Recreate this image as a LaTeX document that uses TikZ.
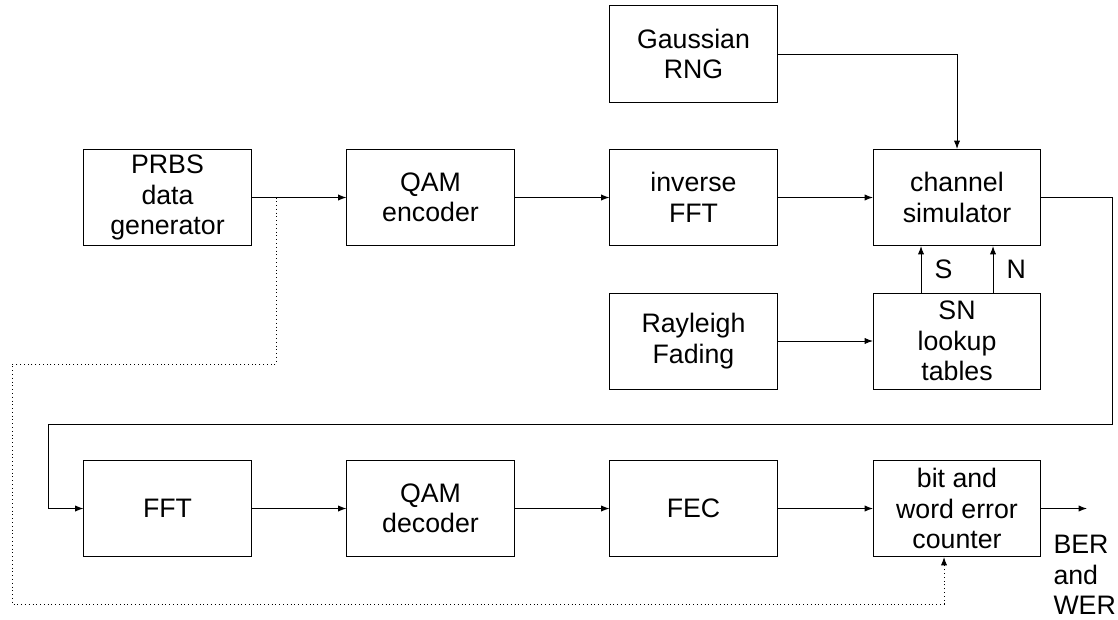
\documentclass[tikz,border=0pt]{standalone}
\usepackage{fontspec}
\setmainfont{Liberation Sans}
\usetikzlibrary{arrows.meta}

\begin{document}
\begin{tikzpicture}[
        x=0.025cm, y=-0.025cm,
        line width=0.7pt,
        every node/.style={font=\fontsize{19}{21.7}\selectfont, align=center},
        block/.style={draw, minimum width=4.175cm, minimum height=2.4cm, inner sep=0pt},
        conn/.style={-{Latex[length=6pt,width=4.5pt]}},
        fback/.style={conn, dotted}
    ]
        \useasboundingbox (0,0) rectangle (1118,619);

        % Transmitter row
        \node [block] (prbs) at (167.5,197.5) {PRBS\\data\\generator};
        \node [block] (qamenc) at (430.5,197.5) {QAM\\encoder};
        \node [block] (ifft) at (693.5,197.5) {inverse\\FFT};
        \node [block] (chan) at (957,197.5) {channel\\simulator};

        % Noise and fading sources
        \node [block] (gauss) at (693.5,54) {Gaussian\\RNG};
        \node [block] (rayl) at (693.5,341) {Rayleigh\\Fading};
        \node [block] (snlut) at (957,341) {SN\\lookup\\tables};

        % Receiver row
        \node [block] (fft) at (167.5,508.5) {FFT};
        \node [block] (qamdec) at (430.5,508.5) {QAM\\decoder};
        \node [block] (fec) at (693.5,508.5) {FEC};
        \node [block] (count) at (957,508.5) {bit and\\word error\\counter};

        \coordinate (tap) at (276,197.5);
        \coordinate (out) at (1087,508.5);
        \node [anchor=north west, align=left, inner sep=0pt] (result) at (1053,535) {BER\\and\\WER};

        % Signal path
        \draw[conn] (prbs) -- (qamenc);
        \draw[conn] (qamenc) -- (ifft);
        \draw[conn] (ifft) -- (chan);
        \draw[conn] (gauss.east) -| (chan.north);
        \draw[conn] (rayl) -- (snlut);
        \draw[conn] (snlut.north -| 921,0) -- (chan.south -| 921,0)
            node[pos=0.5, right=6pt] (slabel) {S};
        \draw[conn] (snlut.north -| 993,0) -- (chan.south -| 993,0)
            node[pos=0.5, right=6pt] (nlabel) {N};
        \draw[conn] (chan.east) -| (1112,424) -| (48,508.5) -- (fft.west);
        \draw[conn] (fft) -- (qamdec);
        \draw[conn] (qamdec) -- (fec);
        \draw[conn] (fec) -- (count);
        \draw[conn] (count.east) -- (out);

        % Reference data for error counting
        \draw[fback] (tap) |- (12,364) |- (944,604) -- (count.south -| 944,0);
    \end{tikzpicture}
\end{document}
